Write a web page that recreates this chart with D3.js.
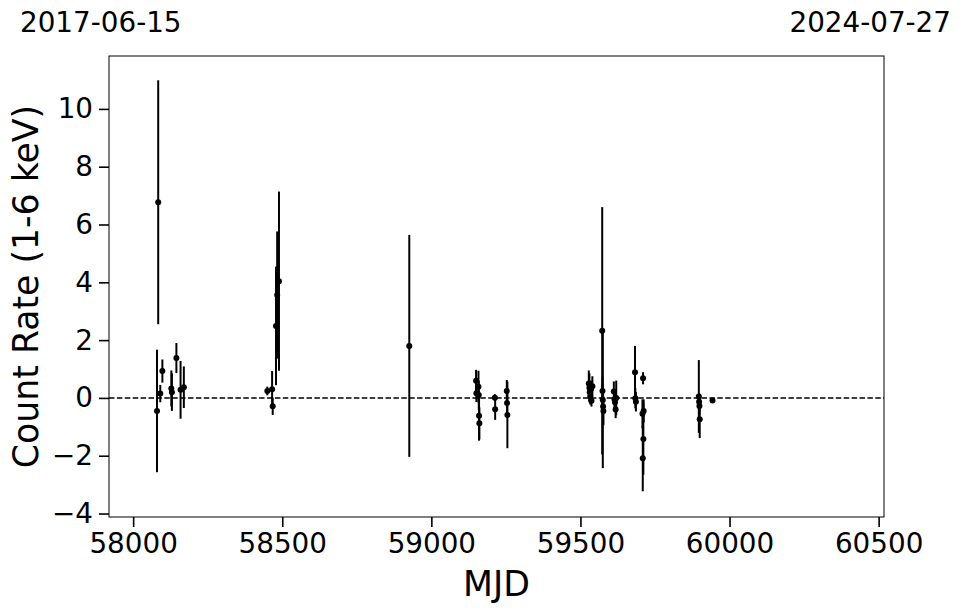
<!DOCTYPE html>
<html>
<head>
<meta charset="utf-8">
<script src="https://cdn.jsdelivr.net/npm/d3@7"></script>
<style>
  body { margin: 0; background: #fff; }
  svg { display: block; font-family: "DejaVu Sans", sans-serif; }
</style>
</head>
<body>
<svg id="chart" width="962" height="613"></svg>
<script>
// ---- data ----
const mjd = [
  58080, 58084, 58091, 58098, 58128, 58130, 58145, 58159, 58170,
  58450, 58466, 58468, 58479, 58483, 58489,
  58926,
  59150, 59151, 59158, 59159, 59160, 59161, 59213, 59214, 59253, 59254, 59255,
  59528, 59530, 59531, 59533, 59535, 59537, 59540,
  59573, 59574, 59575, 59576, 59577,
  59612, 59614, 59616, 59618, 59620,
  59683, 59684, 59686, 59708, 59709, 59710, 59711, 59712,
  59897, 59898, 59899, 59900, 59943
];
const rate = [
  -0.45, 6.77, 0.15, 0.93, 0.33, 0.20, 1.38, 0.28, 0.37,
  0.24, 0.30, -0.29, 2.49, 3.56, 4.04,
  1.80,
  0.59, 0.16, 0.39, 0.10, -0.62, -0.88, 0.01, -0.39, 0.24, -0.18, -0.59,
  0.50, 0.35, 0.20, 0.05, 0.30, -0.10, 0.40,
  2.32, 0.24, -0.07, -0.30, -0.45,
  0.22, -0.05, -0.15, -0.40, 0.00,
  0.89, -0.01, -0.13, -0.55, -2.09, 0.68, -1.42, -0.45,
  0.05, -0.13, -0.28, -0.74, -0.09
];
const err = [
  2.12, 4.22, 0.30, 0.40, 0.62, 0.65, 0.52, 1.00, 0.72,
  0.15, 0.63, 0.30, 2.05, 2.20, 3.10,
  3.84,
  0.38, 0.30, 0.55, 0.50, 0.86, 0.55, 0.12, 0.37, 0.38, 0.40, 1.15,
  0.45, 0.50, 0.30, 0.28, 0.30, 0.20, 0.35,
  4.28, 0.50, 2.36, 0.60, 0.50,
  0.35, 0.30, 0.30, 0.30, 0.60,
  0.91, 0.35, 0.34, 0.50, 1.14, 0.21, 1.24, 0.40,
  1.26, 0.30, 0.30, 0.65, 0.08
];
const xTicks = [58000, 58500, 59000, 59500, 60000, 60500];
const yTicks = [-4, -2, 0, 2, 4, 6, 8, 10];
const xDomain = [57919, 60518];
const yDomain = [-4.12, 11.83];
const dateLeft = "2017-06-15";
const dateRight = "2024-07-27";
const xLabel = "MJD";
const yLabel = "Count Rate (1-6 keV)";

// ---- layout ----
const svg = d3.select("#chart");
const L = 109, R = 884, T = 56, B = 517;
const x = d3.scaleLinear().domain(xDomain).range([L, R]);
const y = d3.scaleLinear().domain(yDomain).range([B, T]);

const pts = mjd.map((m, i) => ({ m, r: rate[i], e: err[i] }));

// zero line
svg.append("line")
  .attr("x1", L).attr("x2", R)
  .attr("y1", y(0)).attr("y2", y(0))
  .attr("stroke", "#000").attr("stroke-width", 1.5)
  .attr("stroke-dasharray", "5.5,2.4");

// error bars
svg.append("g").selectAll("line").data(pts).join("line")
  .attr("x1", d => x(d.m)).attr("x2", d => x(d.m))
  .attr("y1", d => y(d.r + d.e)).attr("y2", d => y(d.r - d.e))
  .attr("stroke", "#000").attr("stroke-width", 2);

// points
svg.append("g").selectAll("circle").data(pts).join("circle")
  .attr("cx", d => x(d.m)).attr("cy", d => y(d.r))
  .attr("r", 3).attr("fill", "#000");

// axes
const xAxis = d3.axisBottom(x).tickValues(xTicks).tickFormat(d3.format("d"))
  .tickSizeInner(10).tickSizeOuter(0).tickPadding(6);
const yAxis = d3.axisLeft(y).tickValues(yTicks).tickFormat(d => d < 0 ? "\u2212" + Math.abs(d) : d)
  .tickSizeInner(10).tickSizeOuter(0).tickPadding(6);

const gx = svg.append("g").attr("transform", `translate(0,${B})`).call(xAxis);
const gy = svg.append("g").attr("transform", `translate(${L},0)`).call(yAxis);
[gx, gy].forEach(g => {
  g.select(".domain").remove();
  g.selectAll(".tick line").attr("stroke", "#000").attr("stroke-width", 1.6);
  g.selectAll(".tick text").attr("fill", "#000")
    .style("font-size", "27.8px").style("font-family", "DejaVu Sans");
});

// frame
svg.append("rect").attr("x", L).attr("y", T)
  .attr("width", R - L).attr("height", B - T)
  .attr("fill", "none").attr("stroke", "#000").attr("stroke-width", 1);

// labels
svg.append("text").attr("x", (L + R) / 2).attr("y", 596)
  .attr("text-anchor", "middle").style("font-size", "34.7px").text(xLabel);
svg.append("text")
  .attr("transform", `translate(38,${(T + B) / 2}) rotate(-90)`)
  .attr("text-anchor", "middle").style("font-size", "34.7px").text(yLabel);
svg.append("text").attr("x", 20).attr("y", 32)
  .style("font-size", "27.8px").text(dateLeft);
svg.append("text").attr("x", 951).attr("y", 32).attr("text-anchor", "end")
  .style("font-size", "27.8px").text(dateRight);
</script>
</body>
</html>
